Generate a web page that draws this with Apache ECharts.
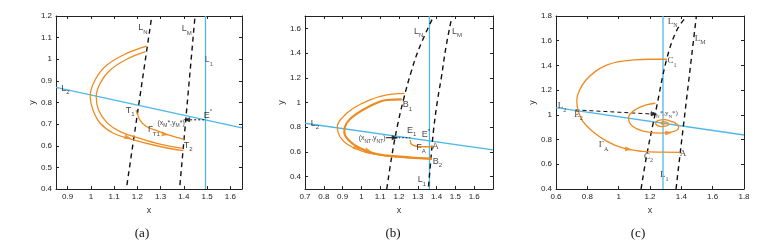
<!DOCTYPE html>
<html><head><meta charset="utf-8">
<script src="https://cdn.jsdelivr.net/npm/echarts@6/dist/echarts.min.js"></script>
<style>html,body{margin:0;padding:0;background:#fff}#c{width:781px;height:251px}</style>
</head><body><div id="c"></div>
<script>
// ---------- Panel (a) ----------
const aXTicks = [0.9,1,1.1,1.2,1.3,1.4,1.5,1.6];
const aYTicks = [0.4,0.5,0.6,0.7,0.8,0.9,1,1.1,1.2];
const aL1 = [[1.493,0.4],[1.493,1.2]];
const aL2 = [[0.85,0.870],[1.65,0.683]];
const aLN = [[1.155,0.418],[1.262,1.2]];
const aLM = [[1.383,0.418],[1.448,1.2]];
const aOuter = [[1.24,1.061],[1.154,1.027],[1.069,0.973],[1.018,0.904],[0.997,0.827],[1.009,0.765],[1.04,0.704],[1.097,0.658],[1.183,0.627],[1.283,0.600],[1.397,0.577]];
const aInner = [[1.235,1.035],[1.154,1.0],[1.083,0.95],[1.04,0.889],[1.023,0.827],[1.033,0.765],[1.069,0.707],[1.126,0.665],[1.211,0.634],[1.297,0.608],[1.397,0.588]];
const aGammaT1 = [[1.194,0.765],[1.197,0.757],[1.211,0.719],[1.24,0.688],[1.283,0.67],[1.326,0.653],[1.369,0.639],[1.401,0.63]];
const aDash = [[1.41,0.72],[1.493,0.72]];
const aArrows = [[1.16,0.638,-105,'o'],[1.32,0.652,-100,'o'],[1.412,0.72,90,'k']];
const aLabels = [[1.224,1.145,'{m|L}{s|N}'],[1.412,1.14,'{m|L}{s|M}'],[1.508,0.997,'{b|L}{bs|1}'],[0.89,0.866,'{m|L}{s|2}'],
  [1.169,0.765,'{m|T}{s|1}'],[1.271,0.673,'{m|Γ}{s|T1}'],[1.418,0.603,'{m|T}{s|2}'],[1.503,0.742,'{m|E}{p|*}'],[1.345,0.707,'{t|(x}{ts|M}{t|*,y}{ts|M}{t|*)}']];

// ---------- Panel (b) ----------
const bXTicks = [0.7,0.8,0.9,1,1.1,1.2,1.3,1.4,1.5,1.6];
const bYTicks = [0.4,0.6,0.8,1,1.2,1.4,1.6];
const bL1 = [[1.362,0.3],[1.362,1.7]];
const bL2 = [[0.7,0.832],[1.7,0.616]];
const bLN = [[1.135,0.3],[1.16,0.55],[1.19,0.8],[1.225,1.03],[1.265,1.25],[1.31,1.45],[1.385,1.7]];
const bLM = [[1.357,0.32],[1.37,0.55],[1.384,0.78],[1.405,1.02],[1.425,1.2],[1.45,1.45],[1.482,1.7]];
const bOuter = [[1.229,1.074],[1.135,1.061],[1.046,1.021],[0.957,0.953],[0.895,0.872],[0.872,0.804],[0.886,0.723],[0.931,0.656],[1.011,0.602],[1.135,0.567],[1.259,0.553],[1.375,0.548]];
const bInner = [[1.215,1.026],[1.135,1.02],[1.046,0.972],[0.966,0.899],[0.921,0.832],[0.909,0.764],[0.931,0.697],[0.993,0.63],[1.082,0.583],[1.205,0.562],[1.375,0.543]];
const bGammaA = [[1.259,0.697],[1.265,0.664],[1.286,0.648],[1.331,0.642],[1.384,0.642]];
const bArrowLine = [[1.13,0.715],[1.175,0.715]];
const bDotted = [[1.18,0.715],[1.26,0.715]];
const bArrows = [[0.976,0.63,-115,'o'],[1.038,0.61,-110,'o'],[1.18,0.715,-90,'k']];
const bLabels = [[1.305,1.573,'{m|L}{s|N}'],[1.508,1.573,'{m|L}{s|M}'],[1.322,0.373,'{m|L}{s|1}'],[0.753,0.832,'{m|L}{s|2}'],
  [1.245,0.98,'{m|B}{s|1}'],[1.405,0.521,'{m|B}{s|2}'],[1.268,0.777,'{m|E}{s|1}'],[1.343,0.737,'{m|E}{p|*}'],[1.317,0.636,'{m|F}{s|A}'],[1.393,0.645,'{m|A}'],
  [1.057,0.712,'{t|(x}{ts|NT}{t|,y}{ts|NT}{t|)}']];

// ---------- Panel (c) ----------
const cXTicks = [0.6,0.8,1,1.2,1.4,1.6,1.8];
const cYTicks = [0.4,0.6,0.8,1,1.2,1.4,1.6,1.8];
const cL1 = [[1.283,0.4],[1.283,1.8]];
const cL2 = [[0.6,1.058],[1.8,0.837]];
const cLN = [[1.143,0.4],[1.18,0.68],[1.24,1.05],[1.308,1.458],[1.372,1.687],[1.436,1.8]];
const cLM = [[1.366,0.4],[1.393,0.694],[1.496,1.8]];
const cOuter = [[1.308,1.45],[1.2,1.45],[1.1,1.445],[1.0,1.43],[0.92,1.4],[0.85,1.35],[0.79,1.28],[0.75,1.2],[0.733,1.12],[0.74,1.04],[0.77,0.95],[0.83,0.87],[0.92,0.79],[1.03,0.73],[1.15,0.705],[1.27,0.698],[1.393,0.697]];
const cSpiral = [[1.234,1.094],[1.17,1.078],[1.11,1.045],[1.072,1.005],[1.063,0.974],[1.075,0.925],[1.12,0.885],[1.19,0.86],[1.27,0.852],[1.34,0.862],[1.375,0.88],[1.383,0.9],[1.37,0.925],[1.335,0.948],[1.29,0.962],[1.255,0.955],[1.236,0.935],[1.245,0.915],[1.275,0.905],[1.305,0.91],[1.318,0.925],[1.305,0.942],[1.285,0.945],[1.272,0.935],[1.28,0.925],[1.295,0.928]];
const cDash = [[0.724,1.04],[1.225,1.006]];
const cArrows = [[1.063,0.722,-98,'o'],[1.319,0.854,-88,'o'],[1.228,1.006,-94,'k']];
const cLabels = [[1.345,1.754,'{m|L}{s|N}'],[1.52,1.62,'{m|L}{s|M}'],[1.34,1.436,'{m|C}{s|1}'],[0.638,1.072,'{m|L}{s|2}'],
  [0.744,1.005,'{m|E}{s|2}'],[0.904,0.756,'{m|Γ}{s|A}'],[1.191,0.661,'{m|C}{s|2}'],[1.41,0.689,'{m|A}'],[1.291,0.513,'{m|L}{s|1}'],
  [1.29,1.013,'{t|(x}{ts|N}{t|*,y}{ts|N}{t|*)}']];

// ---------- styling ----------
const ORANGE = '#EE8B1F', BLUE = '#4DB8E8', BLACK = '#111';
const SANS = 'Liberation Sans', SERIF = 'Liberation Serif';
function rich(font){
  return {
    m:{fontFamily:font,fontSize:9,color:'#111',lineHeight:14,verticalAlign:'middle'},
    s:{fontFamily:font,fontSize:6,color:'#111',lineHeight:14,verticalAlign:'bottom'},
    p:{fontFamily:font,fontSize:6,color:'#111',lineHeight:14,verticalAlign:'top'},
    b:{fontFamily:font,fontSize:9,color:'#1b3a8c',lineHeight:14,verticalAlign:'middle'},
    bs:{fontFamily:font,fontSize:6,color:'#1b3a8c',lineHeight:14,verticalAlign:'bottom'},
    t:{fontFamily:font,fontSize:7,color:'#111',lineHeight:12,verticalAlign:'middle'},
    ts:{fontFamily:font,fontSize:5,color:'#111',lineHeight:12,verticalAlign:'bottom'}
  };
}
const panels = [
  {x:[0.85,1.65],y:[0.4,1.2],xt:aXTicks,yt:aYTicks,font:SANS,
   lines:[[aL1,BLUE,1.3,'solid'],[aL2,BLUE,1.3,'solid'],[aLN,BLACK,1.4,[5,4]],[aLM,BLACK,1.4,[5,4]],
          [aOuter,ORANGE,1.3,'solid',0.4],[aInner,ORANGE,1.3,'solid',0.4],[aGammaT1,ORANGE,1.3,'solid',0.3],[aDash,BLACK,1,[2,2]]],
   arrows:aArrows,labels:aLabels},
  {x:[0.7,1.7],y:[0.3,1.7],xt:bXTicks,yt:bYTicks,font:SANS,
   lines:[[bL1,BLUE,1.3,'solid'],[bL2,BLUE,1.3,'solid'],[bLN,BLACK,1.4,[5,4],0.4],[bLM,BLACK,1.4,[5,4],0.4],
          [bOuter,ORANGE,1.3,'solid',0.4],[bInner,ORANGE,2.2,'solid',0.4],[bGammaA,ORANGE,1.3,'solid',0.3],[bArrowLine,BLACK,1,'solid'],[bDotted,BLACK,1,[1.5,2]]],
   arrows:bArrows,labels:bLabels},
  {x:[0.6,1.8],y:[0.4,1.8],xt:cXTicks,yt:cYTicks,font:SERIF,
   lines:[[cL1,BLUE,1.3,'solid'],[cL2,BLUE,1.3,'solid'],[cLN,BLACK,1.4,[5,4],0.4],[cLM,BLACK,1.4,[5,4]],
          [cOuter,ORANGE,1.3,'solid',0.4],[cSpiral,ORANGE,1.3,'solid',0.5],[cDash,BLACK,1,[4,3]]],
   arrows:cArrows,labels:cLabels}
];
const gridPos = [{left:56,top:16,width:186,height:173},{left:305,top:16,width:188,height:173},{left:556,top:16,width:188,height:173}];

const grid=[], xAxis=[], yAxis=[], series=[];
panels.forEach((p,i)=>{
  grid.push(gridPos[i]);
  const axLine={show:true,onZero:false,lineStyle:{color:'#222',width:1}};
  const lbl={fontSize:8,color:'#222',fontFamily:SANS};
  xAxis.push({type:'value',gridIndex:i,min:p.x[0],max:p.x[1],position:'bottom',axisLine:axLine,
    axisTick:{show:true,inside:true,length:3,customValues:p.xt,lineStyle:{color:'#222'}},
    axisLabel:Object.assign({margin:4,customValues:p.xt},lbl),splitLine:{show:false},
    name:'x',nameLocation:'middle',nameGap:15,nameTextStyle:{fontSize:9,color:'#333',fontFamily:SANS}});
  xAxis.push({type:'value',gridIndex:i,min:p.x[0],max:p.x[1],position:'top',axisLine:axLine,
    axisTick:{show:true,inside:true,length:3,customValues:p.xt,lineStyle:{color:'#222'}},
    axisLabel:{show:false},splitLine:{show:false}});
  yAxis.push({type:'value',gridIndex:i,min:p.y[0],max:p.y[1],position:'left',axisLine:axLine,
    axisTick:{show:true,inside:true,length:3,customValues:p.yt,lineStyle:{color:'#222'}},
    axisLabel:Object.assign({margin:4,customValues:p.yt},lbl),splitLine:{show:false},
    name:'y',nameLocation:'middle',nameGap:15,nameTextStyle:{fontSize:9,color:'#333',fontFamily:SANS}});
  yAxis.push({type:'value',gridIndex:i,min:p.y[0],max:p.y[1],position:'right',axisLine:axLine,
    axisTick:{show:true,inside:true,length:3,customValues:p.yt,lineStyle:{color:'#222'}},
    axisLabel:{show:false},splitLine:{show:false}});
  const xi=2*i, yi=2*i;
  p.lines.forEach(l=>{
    series.push({type:'line',xAxisIndex:xi,yAxisIndex:yi,data:l[0],showSymbol:false,symbol:'none',silent:true,
      smooth:l[4]||false,lineStyle:{color:l[1],width:l[2],type:l[3]},z:l[1]===ORANGE?3:2});
  });
  series.push({type:'scatter',xAxisIndex:xi,yAxisIndex:yi,silent:true,z:5,
    data:p.arrows.map(a=>({value:[a[0],a[1]],symbolRotate:a[2],itemStyle:{color:a[3]==='o'?ORANGE:BLACK}})),
    symbol:'triangle',symbolSize:[5,7]});
  series.push({type:'scatter',xAxisIndex:xi,yAxisIndex:yi,silent:true,z:6,symbolSize:0,
    data:p.labels.map(l=>({value:[l[0],l[1]],label:{formatter:l[2]}})),
    label:{show:true,position:'inside',rich:rich(p.font)}});
});

const chart = echarts.init(document.getElementById('c'),null,{renderer:'canvas'});
chart.setOption({
  animation:false,
  grid, xAxis, yAxis, series,
  graphic:[
    {type:'text',style:{text:'(a)',x:142,y:234,textAlign:'center',textVerticalAlign:'middle',font:'13px "Liberation Serif"',fill:'#111'}},
    {type:'text',style:{text:'(b)',x:393,y:234,textAlign:'center',textVerticalAlign:'middle',font:'13px "Liberation Serif"',fill:'#111'}},
    {type:'text',style:{text:'(c)',x:638,y:234,textAlign:'center',textVerticalAlign:'middle',font:'13px "Liberation Serif"',fill:'#111'}}
  ]
});
</script></body></html>
